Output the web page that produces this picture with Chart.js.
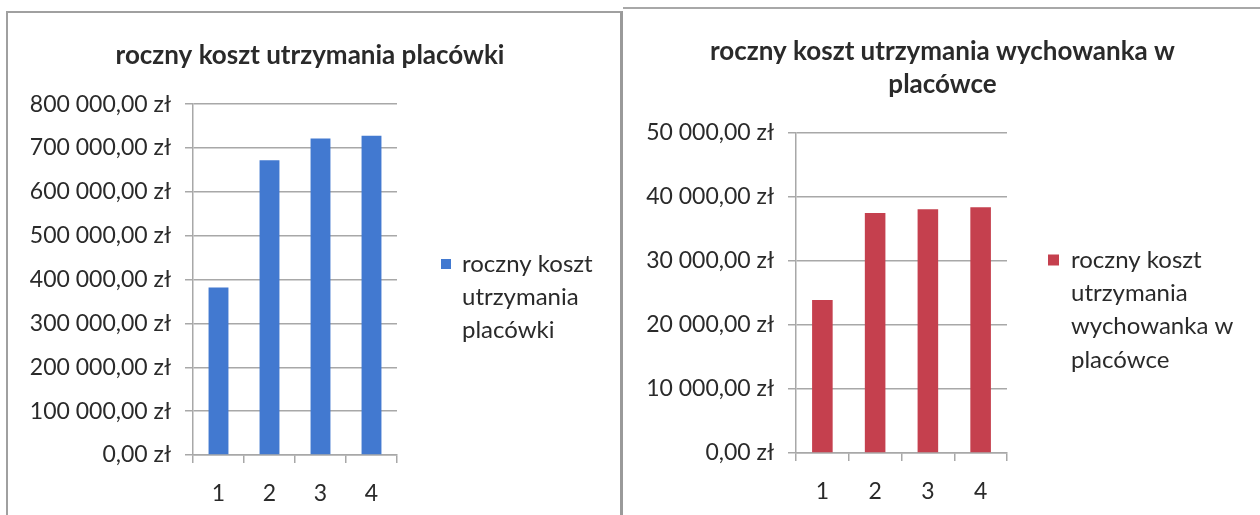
<!DOCTYPE html>
<html>
<head>
<meta charset="utf-8">
<script src="https://cdn.jsdelivr.net/npm/chart.js@4.4.1/dist/chart.umd.min.js"></script>
<style>
  html, body { margin: 0; padding: 0; background: #fff; width: 1260px; height: 515px; overflow: hidden; }
  #frameL { position: absolute; left: 6px; top: 11px; width: 617px; height: 520px; box-sizing: border-box;
            border-left: 2px solid #a0a0a0; border-top: 2px solid #a0a0a0; border-right: 3px solid #9a9a9a; }
  #frameR { position: absolute; left: 623px; top: 7px; width: 640px; height: 520px; box-sizing: border-box;
            border-top: 2px solid #a8a8a8; }
  canvas { position: absolute; top: 0; }
  #cL { left: 0; }
  #cR { left: 625px; }
</style>
</head>
<body>
<div id="frameL"></div>
<div id="frameR"></div>
<canvas id="cL" width="620" height="515"></canvas>
<canvas id="cR" width="635" height="515"></canvas>
<script>
// ---- data ----
const categories = ['1', '2', '3', '4'];
const placowkaValues = [382000, 672000, 722000, 728000];
const wychowanekValues = [23900, 37500, 38100, 38400];
const leftTicks = [0, 100000, 200000, 300000, 400000, 500000, 600000, 700000, 800000];
const rightTicks = [0, 10000, 20000, 30000, 40000, 50000];
const leftTitle = 'roczny koszt utrzymania placówki';
const rightTitle = ['roczny koszt utrzymania wychowanka w', 'placówce'];
const leftSeries = 'roczny koszt utrzymania placówki';
const rightSeries = 'roczny koszt utrzymania wychowanka w placówce';

const FONT = 'Lato, "Open Sans", sans-serif';
const TEXT = '#2a2a2a';
const GRID = '#a8a8a8';

function fmtZl(v) {
  return Math.round(v).toString().replace(/\B(?=(\d{3})+(?!\d))/g, ' ') + ',00 zł';
}

const sideLegend = {
  id: 'sideLegend',
  afterDraw(chart, args, opts) {
    const { ctx, chartArea } = chart;
    const ds = chart.data.datasets[0];
    ctx.save();
    ctx.font = opts.size + 'px ' + FONT;
    const words = ds.label.split(' ');
    const lines = [];
    let cur = '';
    words.forEach(w => {
      const t = cur ? cur + ' ' + w : w;
      if (cur && ctx.measureText(t).width > opts.maxWidth) { lines.push(cur); cur = w; }
      else cur = t;
    });
    if (cur) lines.push(cur);
    const x0 = chartArea.right + opts.offsetX;
    ctx.fillStyle = ds.backgroundColor;
    ctx.fillRect(x0, opts.y - opts.box / 2, opts.box, opts.box);
    ctx.fillStyle = TEXT;
    ctx.textBaseline = 'middle';
    ctx.textAlign = 'left';
    lines.forEach((l, i) => ctx.fillText(l, x0 + opts.box + opts.gap, opts.y + i * opts.lineHeight));
    ctx.restore();
  }
};

function makeChart(id, cfg) {
  return new Chart(document.getElementById(id), {
    type: 'bar',
    data: {
      labels: categories,
      datasets: [{
        label: cfg.series,
        data: cfg.values,
        backgroundColor: cfg.color,
        borderWidth: 0,
        categoryPercentage: 1,
        barPercentage: 0.39
      }]
    },
    options: {
      responsive: false,
      animation: false,
      devicePixelRatio: 1,
      layout: { padding: { left: 0, top: cfg.padTop, right: 0, bottom: 0 } },
      plugins: {
        legend: { display: false },
        tooltip: { enabled: false },
        title: {
          display: true,
          text: cfg.title,
          color: TEXT,
          font: { family: FONT, size: 26, weight: 'bold', lineHeight: cfg.titleLH },
          padding: { top: cfg.titleTop, bottom: cfg.titleBottom }
        },
        sideLegend: cfg.legend
      },
      scales: {
        x: {
          grid: { display: true, drawOnChartArea: false, drawTicks: true, tickLength: 8, color: GRID, lineWidth: 1.5, offset: true },
          border: { display: true, color: GRID, width: 1.5 },
          ticks: { color: TEXT, font: { family: FONT, size: 23 }, padding: 17 },
          afterFit: s => { s.height = cfg.xHeight; }
        },
        y: {
          min: 0,
          max: cfg.ticks[cfg.ticks.length - 1],
          afterBuildTicks: s => { s.ticks = cfg.ticks.map(v => ({ value: v })); },
          grid: { color: GRID, lineWidth: 1.5, tickLength: 8 },
          border: { display: true, color: GRID, width: 1.5 },
          ticks: { color: TEXT, font: { family: FONT, size: 23 }, padding: 14, callback: v => fmtZl(v) },
          afterFit: s => { s.width = cfg.yWidth; }
        },
        legendSpace: {
          position: 'right',
          display: true,
          grid: { display: false, drawTicks: false },
          border: { display: false },
          ticks: { display: false },
          afterFit: s => { s.width = cfg.rightSpace; }
        }
      }
    },
    plugins: [sideLegend]
  });
}

makeChart('cL', {
  series: leftSeries, values: placowkaValues, color: '#4279d0', ticks: leftTicks,
  title: leftTitle, titleLH: 1.2, titleTop: 28, titleBottom: 33, padTop: 12, rightSpace: 223,
  xHeight: 60, yWidth: 193,
  legend: { offsetX: 44, y: 264, box: 10, gap: 11, size: 24, lineHeight: 33, maxWidth: 175 }
});

makeChart('cR', {
  series: rightSeries, values: wychowanekValues, color: '#c5404e', ticks: rightTicks,
  title: rightTitle, titleLH: 1.27, titleTop: 35, titleBottom: 32, padTop: 0, rightSpace: 253,
  xHeight: 62, yWidth: 171,
  legend: { offsetX: 41, y: 260, box: 11, gap: 12, size: 24, lineHeight: 33.3, maxWidth: 175 }
});
</script>
</body>
</html>
